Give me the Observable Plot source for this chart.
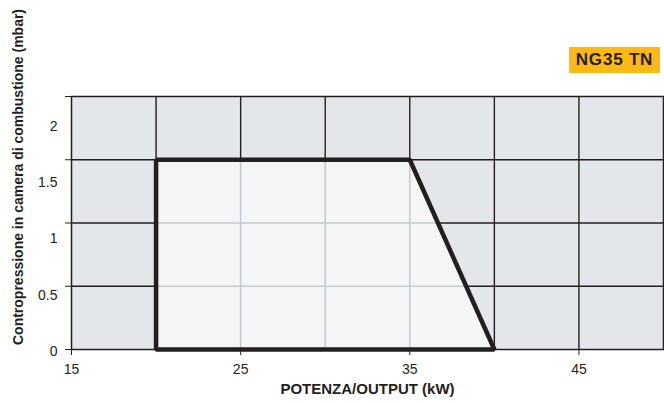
<!DOCTYPE html>
<html>
<head>
<meta charset="utf-8">
<script src="https://cdn.jsdelivr.net/npm/d3@7"></script>
<script src="https://cdn.jsdelivr.net/npm/@observablehq/plot@0.6"></script>
<style>
  html, body { margin: 0; padding: 0; background: #fff; }
  #wrap { position: relative; width: 664px; height: 403px; font-family: "Liberation Sans", Arial, Helvetica, sans-serif; }
  #badge { position: absolute; left: 569px; top: 47px; width: 91px; height: 26px; background: #fdb913; color: #231f20;
           font-weight: bold; font-size: 17px; letter-spacing: 0.8px; line-height: 26px; text-align: center; }
  #chart { position: absolute; left: 0; top: 0; }
</style>
</head>
<body>
<div id="wrap"><div id="chart"></div><div id="badge"></div></div>
<script>
// ---- data ----
const badgeLabel = "NG35 TN";
const xTitle = "POTENZA/OUTPUT (kW)";
const yTitle = "Contropressione in camera di combustione (mbar)";
const xDomain = [15, 50];
const yDomain = [0, 2];
const xTicks = [15, 25, 35, 45];
const xGrid = [20, 25, 30, 35, 40, 45];
const yTicks = [0, 0.5, 1, 1.5, 2];
const yGrid = [0.5, 1, 1.5];
const envelopeOutput = [20, 20, 35, 40];      // kW
const envelopePressure = [0, 1.5, 1.5, 0];    // mbar

// ---- derived ----
const envelope = envelopeOutput.map((x, i) => ({x, y: envelopePressure[i]}));
const edges = envelope.map((p, i) => [p, envelope[(i + 1) % envelope.length]]);
function spanAtY(y) {
  const xs = [];
  for (const [a, b] of edges) {
    if ((y - a.y) * (y - b.y) <= 0 && a.y !== b.y) xs.push(a.x + (y - a.y) / (b.y - a.y) * (b.x - a.x));
  }
  return xs.length ? [d3.min(xs), d3.max(xs)] : null;
}
function spanAtX(x) {
  const ys = [];
  for (const [a, b] of edges) {
    if ((x - a.x) * (x - b.x) <= 0 && a.x !== b.x) ys.push(a.y + (x - a.x) / (b.x - a.x) * (b.y - a.y));
  }
  return ys.length ? [d3.min(ys), d3.max(ys)] : null;
}
const innerV = xGrid.map(x => ({x, s: spanAtX(x)})).filter(d => d.s && d.s[1] - d.s[0] > 0 && d.x > d3.min(envelopeOutput) && d.x < d3.max(envelopeOutput));
const innerH = yGrid.map(y => ({y, s: spanAtY(y)})).filter(d => d.s && d.s[1] - d.s[0] > 0 && d.y < d3.max(envelopePressure));

const dark = "#231f20";
document.getElementById("badge").textContent = badgeLabel;

const chart = Plot.plot({
  width: 664,
  height: 403,
  marginLeft: 71,
  marginRight: 1,
  marginTop: 96,
  marginBottom: 54,
  style: {fontFamily: "'Liberation Sans', Arial, Helvetica, sans-serif", fontSize: "14px", color: dark, background: "transparent"},
  x: {domain: xDomain, ticks: xTicks, tickSize: 6, tickPadding: 9, label: null},
  y: {domain: yDomain, ticks: yTicks, tickSize: 6, tickFormat: () => "", label: null},
  marks: [
    Plot.frame({fill: "#e3e7ea", stroke: null}),
    Plot.ruleX(xGrid, {stroke: dark, strokeWidth: 1.4}),
    Plot.ruleY(yGrid, {stroke: dark, strokeWidth: 1.4}),
    Plot.line(envelope, {x: "x", y: "y", curve: "linear-closed", fill: "#f4f5f7", stroke: null}),
    Plot.ruleX(innerV, {x: "x", y1: d => d.s[0], y2: d => d.s[1], stroke: "#c3c9cd", strokeWidth: 1.5}),
    Plot.ruleY(innerH, {y: "y", x1: d => d.s[0], x2: d => d.s[1], stroke: "#c3c9cd", strokeWidth: 1.5}),
    Plot.frame({stroke: dark, strokeWidth: 1.5}),
    Plot.line(envelope, {x: "x", y: "y", curve: "linear-closed", fill: "none", stroke: dark, strokeWidth: 4.5, strokeLinejoin: "miter"}),
    Plot.text(yTicks, {frameAnchor: "left", y: d => d * 0.892 - 0.018, text: d => String(d), dx: -14, textAnchor: "end", fontSize: 14, fill: dark}),
    Plot.text([xTitle], {frameAnchor: "bottom", text: d => d, dy: 40, lineAnchor: "middle", fontWeight: "bold", fontSize: 15, fill: dark}),
    Plot.text([yTitle], {frameAnchor: "left", text: d => d, dx: -53, dy: -46, rotate: -90, textAnchor: "middle", fontWeight: "bold", fontSize: 14, fill: dark})
  ]
});
document.getElementById("chart").appendChild(chart);
</script>
</body>
</html>
